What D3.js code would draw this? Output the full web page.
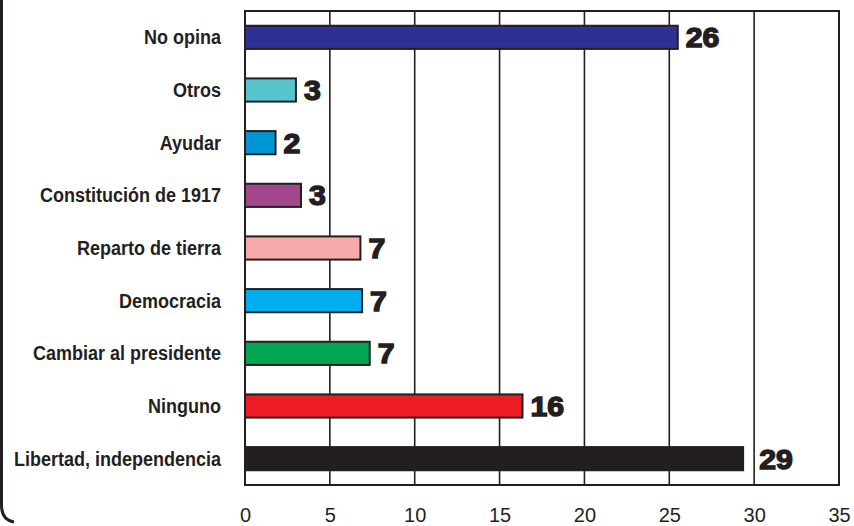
<!DOCTYPE html>
<html>
<head>
<meta charset="utf-8">
<script src="https://cdn.jsdelivr.net/npm/d3@7"></script>
<style>
  body { margin: 0; background: #fff; }
  svg { display: block; }
</style>
</head>
<body>
<svg id="canvas" width="854" height="526"></svg>
<script>
// categories top to bottom
let categories = ['No opina', 'Otros', 'Ayudar', 'Constitución de 1917', 'Reparto de tierra',
  'Democracia', 'Cambiar al presidente', 'Ninguno', 'Libertad, independencia']
// bar lengths as drawn in the picture
let values = [25.5, 3.0, 1.8, 3.3, 6.8, 6.9, 7.35, 16.35, 29.35]
// numbers printed beside the bars
let valueLabels = ['26', '3', '2', '3', '7', '7', '7', '16', '29']
let barColors = ['#2e3192', '#56c5d0', '#0096d6', '#a3468b', '#f7aaa9', '#00aeef', '#00a651', '#ed1c24', '#231f20']
let xTicks = [0, 5, 10, 15, 20, 25, 30, 35]

let canvas = d3.select('#canvas')
let ink = '#231f20'

let plotLeft = 245, plotRight = 839, plotTop = 11, plotBottom = 485

let x = d3.scaleLinear().domain([0, 35]).range([plotLeft, plotRight])
let y = d3.scaleBand().domain(categories).range([plotTop, plotBottom]).paddingInner(0.56).paddingOuter(0.28)

// page frame edge on the left
canvas.append('path')
  .attr('d', 'M1.5,0 L1.5,505 Q1.5,520 14,522')
  .attr('fill', 'none')
  .attr('stroke', ink)
  .attr('stroke-width', 3)

// vertical grid lines
canvas.append('g')
  .selectAll('line')
  .data(xTicks)
  .enter()
  .append('line')
  .attr('x1', d => x(d))
  .attr('x2', d => x(d))
  .attr('y1', plotTop)
  .attr('y2', plotBottom)
  .attr('stroke', ink)
  .attr('stroke-width', 1.6)

canvas.append('rect')
  .attr('x', plotLeft)
  .attr('y', plotTop)
  .attr('width', plotRight - plotLeft)
  .attr('height', plotBottom - plotTop)
  .attr('fill', 'none')
  .attr('stroke', ink)
  .attr('stroke-width', 2)

// bars
canvas.append('g')
  .selectAll('rect')
  .data(categories)
  .enter()
  .append('rect')
  .attr('x', x(0))
  .attr('y', d => y(d))
  .attr('width', (d, i) => x(values[i]) - x(0))
  .attr('height', y.bandwidth())
  .attr('fill', (d, i) => barColors[i])
  .attr('stroke', ink)
  .attr('stroke-width', 2)

// value labels, wide and heavy, pushed past a grid line when they would sit on it
let stretch = 1.12
let valueText = canvas.append('g')
  .selectAll('text')
  .data(categories)
  .enter()
  .append('text')
  .attr('font-family', '"Liberation Sans", Arial, sans-serif')
  .attr('font-weight', 'bold')
  .attr('font-size', 27)
  .attr('fill', ink)
  .attr('stroke', ink)
  .attr('stroke-width', 1.4)
  .text((d, i) => valueLabels[i])

valueText.each(function (d, i) {
  let start = x(values[i]) + 8
  let w = this.getComputedTextLength() * stretch
  xTicks.forEach(t => {
    let gx = x(t)
    if (gx > start - 2 && gx < start + w) start = gx + 5
  })
  d3.select(this).attr('transform', 'translate(' + start + ',' + (y(d) + y.bandwidth() / 2 + 10) + ') scale(' + stretch + ',1)')
})

// category labels, squeezed to the condensed look of the original
let catText = canvas.append('g')
  .selectAll('text')
  .data(categories)
  .enter()
  .append('text')
  .attr('text-anchor', 'end')
  .attr('font-family', '"Liberation Sans", Arial, sans-serif')
  .attr('font-weight', 'bold')
  .attr('font-size', 20)
  .attr('fill', ink)
  .text(d => d)

let widest = d3.max(catText.nodes(), n => n.getComputedTextLength())
let squeeze = 207 / widest
catText.attr('transform', d => 'translate(221,' + (y(d) + y.bandwidth() / 2 + 7) + ') scale(' + squeeze + ',1)')

// x axis tick labels
let xAxis = d3.axisBottom(x).tickValues(xTicks).tickSize(0).tickPadding(0)
let axisG = canvas.append('g')
  .attr('transform', 'translate(0,' + 522 + ')')
  .call(xAxis)
axisG.select('.domain').remove()
axisG.selectAll('text')
  .attr('dy', 0)
  .attr('y', 0)
  .attr('font-family', '"Liberation Sans", Arial, sans-serif')
  .attr('font-size', 20)
  .attr('fill', ink)
</script>
</body>
</html>
